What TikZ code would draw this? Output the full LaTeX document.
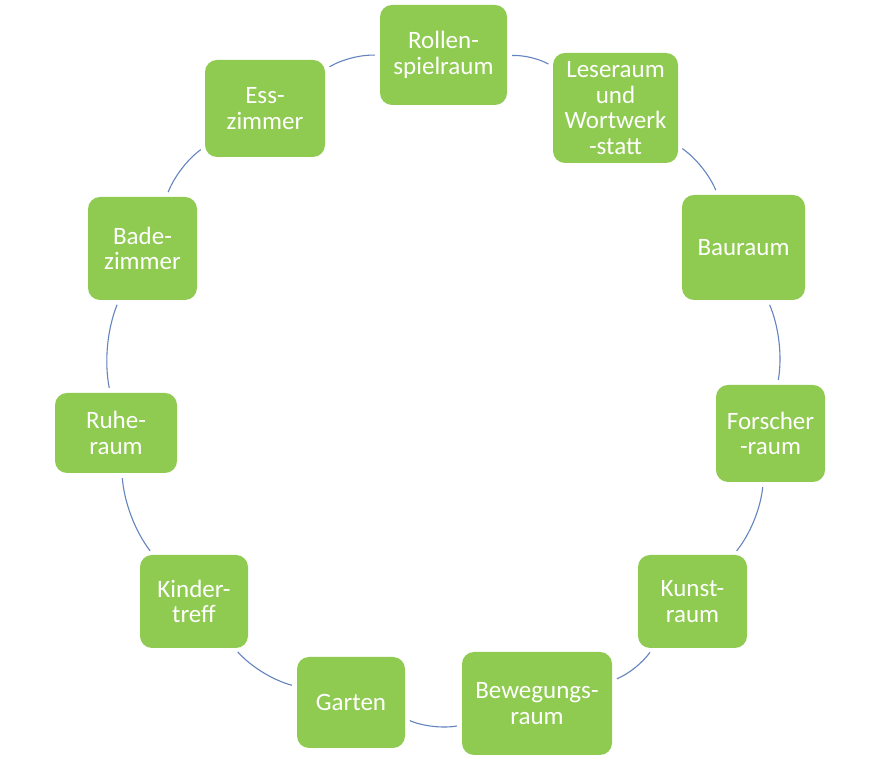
\documentclass[tikz,border=0pt]{standalone}
\usepackage{fontspec}
\setmainfont{Carlito}
\definecolor{boxgreen}{RGB}{143,203,80}
\definecolor{ringblue}{RGB}{100,132,192}
\begin{document}
\begin{tikzpicture}[x=1pt,y=1pt,
  room/.style={fill=boxgreen, rounded corners=12pt, text=white, align=center,
    font=\fontsize{25}{25.5}\selectfont, inner sep=0pt},
  ring/.style={draw=ringblue, line width=1.1pt, shorten <=5pt, shorten >=5pt}]
\useasboundingbox[fill=white] (0,0) rectangle (878,759);
\node[room, minimum width=127pt, minimum height=100pt] (n1) at (443.5,704) {Rollen-\\spielraum};
\node[room, minimum width=125pt, minimum height=110pt] (n2) at (615.5,651) {Leseraum\\und\\Wortwerk\\-statt};
\node[room, minimum width=123pt, minimum height=105pt] (n3) at (743.5,511.5) {Bauraum};
\node[room, minimum width=109pt, minimum height=97pt] (n4) at (770.5,325.5) {Forscher\\-raum};
\node[room, minimum width=109pt, minimum height=93pt] (n5) at (692.5,157.5) {Kunst-\\raum};
\node[room, minimum width=150pt, minimum height=103pt] (n6) at (537,55.5) {Bewegungs-\\raum};
\node[room, minimum width=108pt, minimum height=91pt] (n7) at (351,56.5) {Garten};
\node[room, minimum width=108pt, minimum height=93pt] (n8) at (194,157.5) {Kinder-\\treff};
\node[room, minimum width=122pt, minimum height=80pt] (n9) at (116,326) {Ruhe-\\raum};
\node[room, minimum width=109pt, minimum height=103pt] (n10) at (142.5,510.5) {Bade-\\zimmer};
\node[room, minimum width=120pt, minimum height=97pt] (n11) at (265,650.5) {Ess-\\zimmer};
\foreach \a/\b in {n1/n2,n2/n3,n3/n4,n4/n5,n5/n6,n6/n7,n7/n8,n8/n9,n9/n10,n10/n11,n11/n1}
  \draw[ring] (\a) to[bend left=16.4, looseness=0.87] (\b);
\end{tikzpicture}
\end{document}
